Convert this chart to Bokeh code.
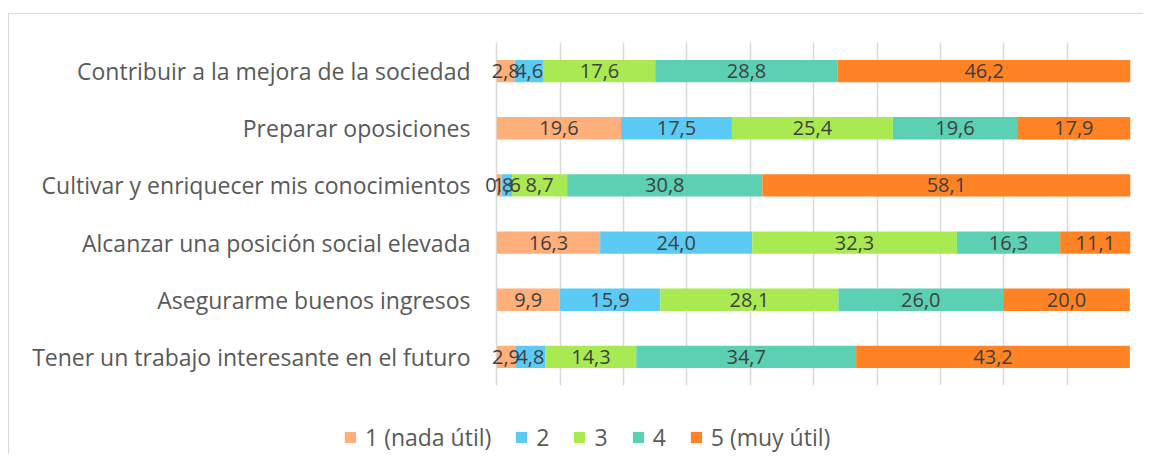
import numpy as np
from bokeh.plotting import figure
from bokeh.models import (ColumnDataSource, FactorRange, Range1d, FixedTicker,
                          Legend, LegendItem, InlineStyleSheet)
from bokeh.core.properties import value
from bokeh.embed import file_html
from bokeh.resources import INLINE

# ---------------- data ----------------
categories = [
    "Contribuir a la mejora de la sociedad",
    "Preparar oposiciones",
    "Cultivar y enriquecer mis conocimientos",
    "Alcanzar una posición social elevada",
    "Asegurarme buenos ingresos",
    "Tener un trabajo interesante en el futuro",
]
series_names = ["1 (nada útil)", "2", "3", "4", "5 (muy útil)"]
s1 = [2.8, 19.6, 0.8, 16.3, 9.9, 2.9]
s2 = [4.6, 17.5, 1.6, 24.0, 15.9, 4.8]
s3 = [17.6, 25.4, 8.7, 32.3, 28.1, 14.3]
s4 = [28.8, 19.6, 30.8, 16.3, 26.0, 34.7]
s5 = [46.2, 17.9, 58.1, 11.1, 20.0, 43.2]
colors = ["#FFB07A", "#5BCBF5", "#A9EA52", "#5BD0B2", "#FF8225"]

FONT = "Open Sans"

keys = ["s1", "s2", "s3", "s4", "s5"]
data = dict(cat=categories, s1=s1, s2=s2, s3=s3, s4=s4, s5=s5)
source = ColumnDataSource(data)

# ---------------- main chart ----------------
# x range starts slightly below 0 so that small labels near 0 are not clipped
p = figure(
    width=1135, height=381,
    y_range=FactorRange(factors=categories[::-1]),
    x_range=Range1d(-4, 100),
    output_backend="svg", toolbar_location=None,
    min_border_left=462, min_border_right=14,
    min_border_top=28, min_border_bottom=10,
)
p.margin = (13, 0, 0, 8)
p.stylesheets = [InlineStyleSheet(
    css=":host { border-top: 1px solid #d9d9d9; border-left: 1px solid #d9d9d9; }")]

renderers = p.hbar_stack(keys, y="cat", height=0.39, color=colors, source=source,
                         line_color=None)

# data labels
vals = np.array([s1, s2, s3, s4, s5])
cum = np.cumsum(vals, axis=0)
starts = cum - vals
lx, ly, lt = [], [], []
for i in range(vals.shape[0]):
    for j, c in enumerate(categories):
        lx.append(starts[i, j] + vals[i, j] / 2)
        ly.append(c)
        lt.append(f"{vals[i, j]:.1f}".replace(".", ","))
lsrc = ColumnDataSource(dict(x=lx, y=ly, t=lt))
p.text(x="x", y="y", text="t", source=lsrc, text_align="center",
       text_baseline="middle", text_font=value(FONT), text_font_size="20px",
       text_color="#404040")

p.xaxis.visible = False
p.xgrid.ticker = FixedTicker(ticks=list(range(0, 101, 10)))
p.xgrid.grid_line_color = "#d9d9d9"
p.xgrid.grid_line_width = 1.5
p.ygrid.grid_line_color = None
p.outline_line_color = None

p.yaxis.axis_line_color = None
p.yaxis.major_tick_line_color = None
p.yaxis.minor_tick_line_color = None
p.yaxis.major_tick_out = 0
p.yaxis.major_label_standoff = 1
p.yaxis.major_label_text_font = FONT
p.yaxis.major_label_text_font_size = "23px"
p.yaxis.major_label_text_color = "#595959"

# ---------------- legend strip ----------------
p2 = figure(width=1135, height=60, x_range=Range1d(0, 1), y_range=Range1d(0, 1),
            output_backend="svg", toolbar_location=None,
            min_border_left=0, min_border_right=0, min_border_top=0,
            min_border_bottom=0)
p2.margin = (0, 0, 0, 8)
p2.stylesheets = [InlineStyleSheet(css=":host { border-left: 1px solid #d9d9d9; }")]
p2.xaxis.visible = False
p2.yaxis.visible = False
p2.grid.visible = False
p2.outline_line_color = None
# zero-size stand-in marks that only carry the legend swatches
leg_renderers = [p2.rect(x=[0], y=[0], width=0, height=0, fill_color=c, line_color=None)
                 for c in colors]
items = [LegendItem(label=n, renderers=[r]) for n, r in zip(series_names, leg_renderers)]
legend = Legend(items=items, orientation="horizontal", location=(334, 1),
                glyph_width=14, glyph_height=14, label_height=24, label_width=0,
                label_standoff=8, spacing=23, padding=0, margin=0,
                label_text_font=FONT, label_text_font_size="23px",
                label_text_color="#595959", border_line_color=None,
                background_fill_alpha=0)
p2.add_layout(legend, "center")

open("out.html", "w").write(file_html([p, p2], INLINE))
